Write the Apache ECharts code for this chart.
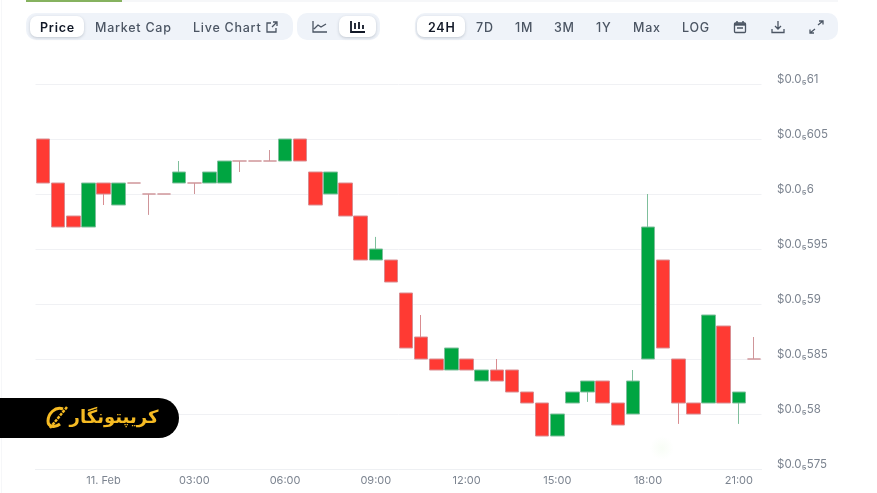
<!DOCTYPE html>
<html lang="en">
<head>
<meta charset="UTF-8">
<title>Price chart</title>
<script src="https://cdn.jsdelivr.net/npm/echarts@6/dist/echarts.min.js"></script>
<style>
html,body{margin:0;padding:0;background:#fff;font-family:Inter,"Noto Sans",sans-serif;}
#page{position:relative;width:877px;height:493px;overflow:hidden;}
#main{position:absolute;left:0;top:0;width:877px;height:493px;}
.abs{position:absolute;}
.pill{position:absolute;top:13px;height:27px;background:#eff3f9;border-radius:10px;}
.tab{position:absolute;top:16px;height:21px;background:#fff;border-radius:7px;box-shadow:0 1px 3px rgba(60,70,90,.25);}
.t{position:absolute;top:17px;height:21px;line-height:21px;font-size:12.5px;font-weight:500;color:#4b5563;letter-spacing:.75px;white-space:nowrap;}
.t.on{color:#111827;font-weight:600;}
svg.i{position:absolute;fill:none;stroke:#4b5563;stroke-width:1.3;}
#badge{position:absolute;left:0;top:398px;width:179px;height:40px;background:#000;border-radius:0 20px 20px 0;}
#badge span{position:absolute;left:69px;top:5px;width:90px;text-align:center;font:bold 18px "DejaVu Sans",sans-serif;color:#f6bb23;line-height:28px;white-space:nowrap;}
</style>
</head>
<body>
<div id="page">
  <div id="main"></div>
  <div class="abs" style="left:26px;top:0;width:812px;height:2px;background:#f6f7f9"></div>
  <div class="abs" style="left:26px;top:0;width:96px;height:2px;background:#86b25f"></div>
  <div class="abs" style="left:1px;top:0;width:1px;height:493px;background:#f6f7f9"></div>
  <div class="abs" style="left:650px;top:436px;width:24px;height:24px;border-radius:12px;background:radial-gradient(circle,#f8fdf6,#ffffff 70%)"></div>

  <div class="pill" style="left:26px;width:267px"></div>
  <div class="pill" style="left:297px;width:83px"></div>
  <div class="pill" style="left:415px;width:423px"></div>
  <div class="tab" style="left:30px;width:54px"></div>
  <div class="tab" style="left:339px;width:37px"></div>
  <div class="tab" style="left:417px;width:48px"></div>

  <span class="t on" style="left:40px">Price</span>
  <span class="t" style="left:95px">Market Cap</span>
  <span class="t" style="left:193px">Live Chart</span>
  <svg class="i" style="left:265px;top:21px" width="13" height="13" viewBox="0 0 13 13"><path d="M6 2H2v9h9V7M7 6l5-5M8 1h4v4"/></svg>
  <svg class="i" style="left:312px;top:20px" width="16" height="13" viewBox="0 0 16 13"><path d="M1 1v11h14M2 9l4-4 3 2 5-3"/></svg>
  <svg class="i" style="left:350px;top:20px" width="16" height="13" viewBox="0 0 16 13"><path d="M1 1v11h14M5 3v6M9 2v7M13 5v4" stroke="#111827" stroke-width="1.8"/></svg>

  <span class="t on" style="left:428px">24H</span>
  <span class="t" style="left:476px">7D</span>
  <span class="t" style="left:515px">1M</span>
  <span class="t" style="left:554px">3M</span>
  <span class="t" style="left:596px">1Y</span>
  <span class="t" style="left:633px">Max</span>
  <span class="t" style="left:682px">LOG</span>
  <svg class="i" style="left:733px;top:20px" width="14" height="14" viewBox="0 0 14 14"><rect x="1.5" y="3" width="11" height="9.5" rx="1"/><path d="M1.5 4.5h11" stroke-width="2.4"/><path d="M4 1v2M10 1v2M4 8h6" stroke-width="1.5"/></svg>
  <svg class="i" style="left:771px;top:20px" width="14" height="14" viewBox="0 0 14 14"><path d="M7 1v8M4 6l3 3 3-3M1 9v3.5h12V9"/></svg>
  <svg class="i" style="left:809px;top:20px" width="15" height="14" viewBox="0 0 15 14"><path d="M9 5l5-4M10 1h4v3.5M6 9l-5 4M1 9.500v3.500h4"/></svg>

  <div id="badge">
    <svg class="abs" style="left:44px;top:6px" width="26" height="27" viewBox="0 0 26 27"><path d="M19 5C11 2 4 10 4 17c0 6 7 7 12 3" fill="none" stroke="#f6bb23" stroke-width="3"/><path d="M6 24L23 3" stroke="#f6bb23" stroke-width="2.500" stroke-dasharray="3 1"/></svg>
    <span dir="rtl" lang="fa">کریپتونگار</span>
  </div>
</div>

<script type="text/javascript">
var categories = [
    '22:00','22:30','23:00','23:30','11. Feb','00:30','01:00','01:30','02:00','02:30','03:00','03:30',
    '04:00','04:30','05:00','05:30','06:00','06:30','07:00','07:30','08:00','08:30','09:00','09:30',
    '10:00','10:30','11:00','11:30','12:00','12:30','13:00','13:30','14:00','14:30','15:00','15:30',
    '16:00','16:30','17:00','17:30','18:00','18:30','19:00','19:30','20:00','20:30','21:00','21:30'
];
// prices in units of 0.00000001
var opens = [
    60.5,60.1,59.8,59.7,60.1,59.9,60.1,60.0,60.0,60.1,60.1,60.1,
    60.1,60.3,60.3,60.3,60.3,60.5,60.2,60.0,60.1,59.8,59.4,59.4,
    59.1,58.7,58.5,58.4,58.5,58.3,58.4,58.4,58.2,58.1,57.8,58.1,
    58.2,58.3,58.1,58.0,58.5,59.4,58.5,58.1,58.1,58.8,58.1,58.5
];
var closes = [
    60.1,59.7,59.7,60.1,60.0,60.1,60.1,60.0,60.0,60.2,60.1,60.2,
    60.3,60.3,60.3,60.3,60.5,60.3,59.9,60.2,59.8,59.4,59.5,59.2,
    58.6,58.5,58.4,58.6,58.4,58.4,58.3,58.2,58.1,57.8,58.0,58.2,
    58.3,58.1,57.9,58.3,59.7,58.6,58.1,58.0,58.9,58.1,58.2,58.5
];
var lows = [
    60.1,59.7,59.7,59.7,59.9,59.9,60.1,59.81,60.0,60.1,60.0,60.1,
    60.1,60.2,60.3,60.3,60.3,60.3,59.9,60.0,59.8,59.4,59.4,59.2,
    58.6,58.5,58.4,58.4,58.4,58.3,58.3,58.2,58.1,57.8,57.8,58.1,
    58.11,58.1,57.9,58.0,58.5,58.6,57.91,58.0,58.1,58.1,57.91,58.5
];
var highs = [
    60.5,60.1,59.8,60.1,60.1,60.1,60.1,60.0,60.0,60.3,60.1,60.2,
    60.3,60.3,60.3,60.4,60.5,60.5,60.2,60.2,60.1,59.8,59.61,59.4,
    59.1,58.9,58.5,58.6,58.5,58.4,58.5,58.4,58.2,58.1,58.0,58.2,
    58.3,58.3,58.1,58.4,60.0,59.4,58.5,58.1,58.9,58.8,58.2,58.7
];
var yTicks = [57.5,58,58.5,59,59.5,60,60.5,61];
var yLabels = ['$0.0₅575','$0.0₅58','$0.0₅585','$0.0₅59','$0.0₅595','$0.0₅6','$0.0₅605','$0.0₅61'];

var candles = [];
for (var i = 0; i < categories.length; i++) {
    candles.push([opens[i], closes[i], lows[i], highs[i]]);
}

var myChart = echarts.init(document.getElementById('main'));
myChart.setOption({
    animation: false,
    grid: {left: 35.5, top: 84, width: 726, height: 385},
    xAxis: {
        type: 'category',
        data: categories,
        axisLine: {lineStyle: {color: '#eef0f3'}},
        axisTick: {show: false},
        splitLine: {show: false},
        axisLabel: {
            interval: function (index) { return index % 6 === 4; },
            margin: 6,
            color: '#7c8490',
            fontFamily: 'Inter',
            fontSize: 11
        }
    },
    yAxis: {
        type: 'value',
        position: 'right',
        min: 57.5,
        max: 61,
        interval: 0.5,
        axisLine: {show: false},
        axisTick: {show: false},
        splitLine: {lineStyle: {color: '#f0f1f4', width: 1}},
        axisLabel: {
            margin: 15.5,
            verticalAlign: 'bottom',
            lineHeight: 9,
            color: '#7c8490',
            fontFamily: 'Inter',
            fontSize: 11.5,
            formatter: function (v) { return yLabels[yTicks.indexOf(v)]; }
        }
    },
    series: [{
        type: 'candlestick',
        data: candles,
        barWidth: 14,
        itemStyle: {
            color: '#00a541',
            color0: '#ff3a33',
            borderColor: '#7fbf9c',
            borderColor0: '#d98c90',
            borderColorDoji: '#cf9599',
            borderWidth: 1
        }
    }]
});
</script>
</body>
</html>
